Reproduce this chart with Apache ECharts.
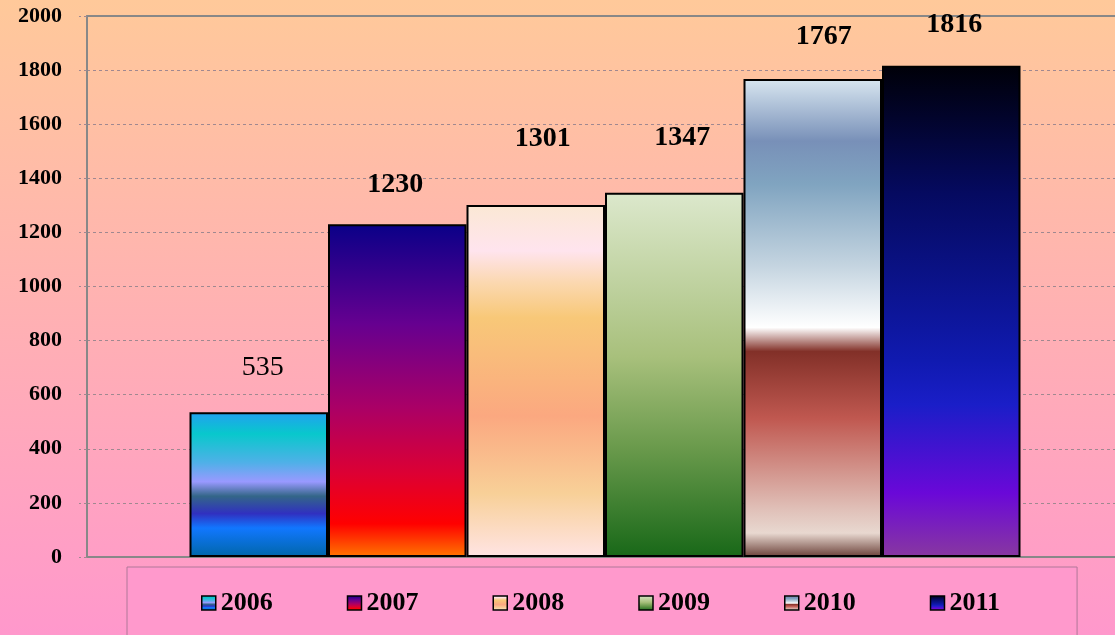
<!DOCTYPE html>
<html>
<head>
    <meta charset="utf-8">
    <script type="text/javascript" src="https://cdn.jsdelivr.net/npm/echarts@6/dist/echarts.min.js"></script>
    <style type="text/css">
        * {
            margin: 0;
            padding: 0;
        }
        #container {
            width: 1115px;
            height: 635px;
        }
    </style>
</head>
<body>
<div id="container"></div>

<script type="text/javascript">

    //年份（每年一个系列）
    var years = ['2006', '2007', '2008', '2009', '2010', '2011'];
    //每年的数值
    var values = [535, 1230, 1301, 1347, 1767, 1816];
    //y轴刻度
    var yMin = 0;
    var yMax = 2000;
    var yStep = 200;

    //每根柱子的渐变色 (从上到下)
    var barStops = [
        [[0, '#22A0F0'], [0.15, '#08C8CC'], [0.35, '#50B0E8'], [0.48, '#9999FF'], [0.58, '#336688'], [0.70, '#3030C0'], [0.80, '#1177FF'], [1, '#0066A8']],
        [[0, '#0A0088'], [0.3, '#660090'], [0.55, '#AA0066'], [0.75, '#DD0033'], [0.9, '#FF0000'], [1, '#FF7700']],
        [[0, '#FBE8D4'], [0.13, '#FFE4EE'], [0.22, '#FBD8B0'], [0.32, '#F8C878'], [0.6, '#FBA880'], [0.82, '#F8D098'], [1, '#FFE4E4']],
        [[0, '#DCE8CC'], [0.45, '#A8C07C'], [0.7, '#6A9A4C'], [1, '#186818']],
        [[0, '#D8E6F0'], [0.13, '#7890B8'], [0.22, '#80A4C0'], [0.39, '#C4D4E0'], [0.52, '#FFFFFF'], [0.57, '#823028'], [0.71, '#C05850'], [0.9, '#E0C0B8'], [0.95, '#E8D8D0'], [1, '#6A4038']],
        [[0, '#000008'], [0.26, '#050A60'], [0.6, '#101AB0'], [0.69, '#1A1EC8'], [0.87, '#6A08D8'], [1, '#8838A0']]
    ];

    //数值标签的位置微调（原图中标签是手动摆放的）
    var labelDistance = [31, 26, 52, 41, 28, 27];
    var labelShiftX = [4, -2, 7, 8, 11, 3];
    var labelWeight = ['normal', 'bold', 'bold', 'bold', 'bold', 'bold'];

    function makeGradient(stops) {
        return new echarts.graphic.LinearGradient(0, 0, 0, 1, stops.map(function (s) {
            return {offset: s[0], color: s[1]};
        }));
    }

    var serifFont = '"Liberation Serif", "Times New Roman", serif';

    //每年一个系列
    var seriesList = [];
    for (var i = 0; i < years.length; i++) {
        seriesList.push({
            name: years[i],
            type: 'bar',
            barWidth: 138.5,
            barGap: '0%',
            data: [values[i]],
            itemStyle: {
                color: makeGradient(barStops[i]),
                borderColor: '#000',
                borderWidth: 2
            },
            label: {
                show: true,
                position: 'top',
                distance: labelDistance[i],
                offset: [labelShiftX[i], 0],
                color: '#000',
                fontSize: 28,
                fontWeight: labelWeight[i],
                fontFamily: serifFont
            }
        });
    }

    var dom = document.getElementById('container');
    var myChart = echarts.init(dom);
    var option = {
        animation: false,
        backgroundColor: new echarts.graphic.LinearGradient(0, 0, 0, 1, [
            {offset: 0, color: '#FFC99A'},
            {offset: 1, color: '#FF98CC'}
        ]),
        grid: {
            left: 87,
            top: 16,
            right: -8,
            bottom: 78,
            outerBoundsMode: 'none',
            containLabel: false,
            show: false
        },
        legend: {
            data: years,
            left: 127,
            top: 567,
            padding: [23, 77, 40, 74],
            backgroundColor: '#FF99CC',
            borderColor: '#B07898',
            borderWidth: 1,
            icon: 'rect',
            itemWidth: 14,
            itemHeight: 14,
            itemGap: 74,
            itemStyle: {
                borderColor: '#000',
                borderWidth: 1.5
            },
            textStyle: {
                color: '#000',
                fontSize: 26,
                fontWeight: 'bold',
                fontFamily: serifFont
            }
        },
        xAxis: [
            {
                type: 'category',
                data: [''],
                axisLine: {show: true, lineStyle: {color: '#888888', width: 2}},
                axisTick: {show: false},
                axisLabel: {show: false}
            },
            {//上边框线
                type: 'category',
                position: 'top',
                data: [''],
                axisLine: {show: true, lineStyle: {color: '#888888', width: 2}},
                axisTick: {show: false},
                axisLabel: {show: false}
            }
        ],
        yAxis: {
            type: 'value',
            min: yMin,
            max: yMax,
            interval: yStep,
            axisLine: {show: true, lineStyle: {color: '#888888', width: 2}},
            axisTick: {show: true, length: 8, lineStyle: {color: '#A08890', type: [3, 3]}},
            axisLabel: {
                margin: 25,
                color: '#000',
                fontSize: 22,
                fontWeight: 'bold',
                fontFamily: serifFont,
                formatter: function (v) {
                    return String(v);
                }
            },
            splitLine: {
                show: true,
                lineStyle: {color: '#A08890', type: [3, 3], width: 1}
            }
        },
        series: seriesList
    };
    myChart.setOption(option);

</script>
</body>
</html>
